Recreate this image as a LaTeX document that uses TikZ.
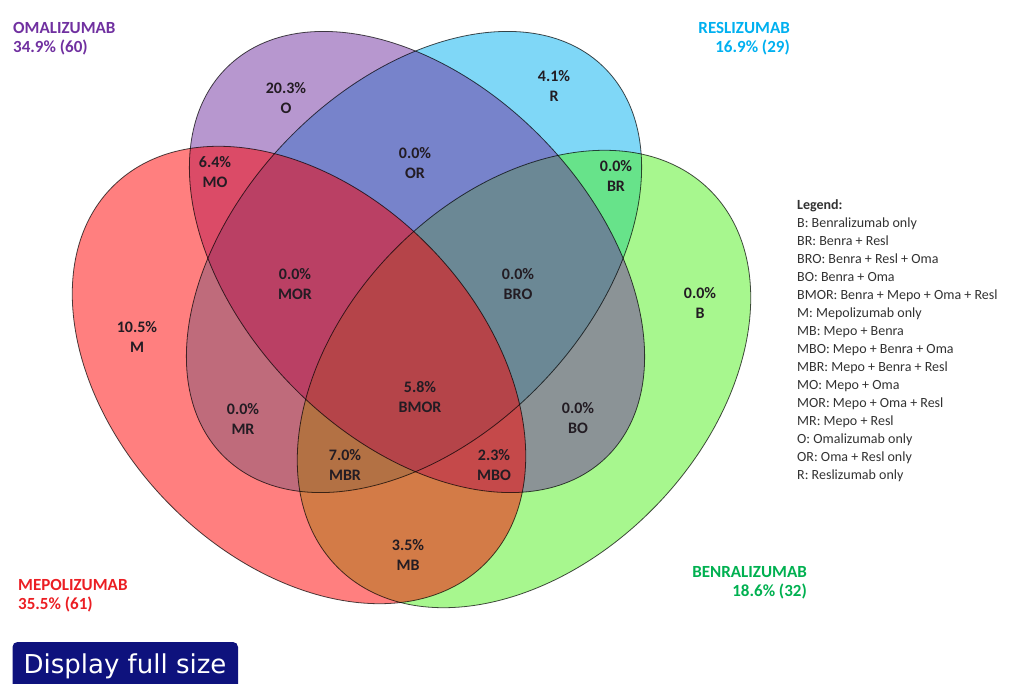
\documentclass[tikz,border=0pt]{standalone}
\usepackage{fontspec}
\setmainfont{Carlito}
\newfontfamily\btnfont{DejaVu Sans}
\definecolor{omacol}{RGB}{112,48,160}
\definecolor{rescol}{RGB}{0,176,240}
\definecolor{mepcol}{RGB}{235,30,35}
\definecolor{bencol}{RGB}{0,176,80}
\definecolor{omafill}{RGB}{112,48,160}
\definecolor{resfill}{RGB}{0,176,240}
\definecolor{mepfill}{RGB}{255,0,0}
\definecolor{benfill}{RGB}{80,240,30}
\definecolor{navybtn}{RGB}{14,18,125}
\definecolor{labcol}{RGB}{35,28,35}
\definecolor{legcol}{RGB}{50,50,50}
\tikzset{
  setfill/.style={fill=#1, fill opacity=0.5},
  setline/.style={draw=black, draw opacity=0.7, line width=0.8pt},
  reglab/.style={font=\fontsize{16}{20.5}\selectfont\bfseries, align=center, text=labcol, inner sep=0pt},
  ttl/.style={font=\fontsize{17}{19}\selectfont\bfseries, text=#1, inner sep=0pt},
  legtext/.style={font=\fontsize{14}{18}\selectfont, align=left, text=legcol, inner sep=0pt, anchor=north west},
  btntext/.style={font=\btnfont\fontsize{26}{28}\selectfont, text=white, inner sep=0pt, anchor=base}
}
\begin{document}
\begin{tikzpicture}[x=1pt,y=-1pt]
\useasboundingbox (0,0) rectangle (1012,684);
% fills in blending order
\fill[setfill=resfill, rotate around={45.9:(414,262)}] (414,262) ellipse (272 and 176);
\fill[setfill=benfill, rotate around={45.7:(524,379)}] (524,379) ellipse (265 and 183);
\fill[setfill=omafill, rotate around={-45.9:(417,262)}] (417,262) ellipse (272 and 176);
\fill[setfill=mepfill, rotate around={-45.7:(299,375)}] (299,375) ellipse (265 and 183);
% borders
\draw[setline, rotate around={45.9:(414,262)}] (414,262) ellipse (272 and 176);
\draw[setline, rotate around={45.7:(524,379)}] (524,379) ellipse (265 and 183);
\draw[setline, rotate around={-45.9:(417,262)}] (417,262) ellipse (272 and 176);
\draw[setline, rotate around={-45.7:(299,375)}] (299,375) ellipse (265 and 183);
% region labels
\node[reglab] (rO) at (286,98) {20.3\%\\O};
\node[reglab] (rR) at (554,86) {4.1\%\\R};
\node[reglab] (rMO) at (215,172) {6.4\%\\MO};
\node[reglab] (rOR) at (415,163) {0.0\%\\OR};
\node[reglab] (rBR) at (616,176) {0.0\%\\BR};
\node[reglab] (rMOR) at (295,284) {0.0\%\\MOR};
\node[reglab] (rBRO) at (518,284) {0.0\%\\BRO};
\node[reglab] (rB) at (700,303) {0.0\%\\B};
\node[reglab] (rM) at (137,337) {10.5\%\\M};
\node[reglab] (rBMOR) at (420,397) {5.8\%\\BMOR};
\node[reglab] (rMR) at (243,419) {0.0\%\\MR};
\node[reglab] (rBO) at (578,418) {0.0\%\\BO};
\node[reglab] (rMBR) at (345,465) {7.0\%\\MBR};
\node[reglab] (rMBO) at (494,465) {2.3\%\\MBO};
\node[reglab] (rMB) at (408,555) {3.5\%\\MB};
% titles
\node[ttl=omacol, anchor=base west] (omaT) at (13,34) {OMALIZUMAB};
\node[ttl=omacol, anchor=base west] (omaP) at (13,53) {34.9\% (60)};
\node[ttl=rescol, anchor=base east] (resT) at (790,34) {RESLIZUMAB};
\node[ttl=rescol, anchor=base east] (resP) at (790,53) {16.9\% (29)};
\node[ttl=mepcol, anchor=base west] (mepT) at (18,590) {MEPOLIZUMAB};
\node[ttl=mepcol, anchor=base west] (mepP) at (18,609) {35.5\% (61)};
\node[ttl=bencol, anchor=base east] (benT) at (807,577) {BENRALIZUMAB};
\node[ttl=bencol, anchor=base east] (benP) at (807,596) {18.6\% (32)};
% legend
\node[legtext] (legend) at (797,199) {\textbf{Legend:}\\
B: Benralizumab only\\
BR: Benra + Resl\\
BRO: Benra + Resl + Oma\\
BO: Benra + Oma\\
BMOR: Benra + Mepo + Oma + Resl\\
M: Mepolizumab only\\
MB: Mepo + Benra\\
MBO: Mepo + Benra + Oma\\
MBR: Mepo + Benra + Resl\\
MO: Mepo + Oma\\
MOR: Mepo + Oma + Resl\\
MR: Mepo + Resl\\
O: Omalizumab only\\
OR: Oma + Resl only\\
R: Reslizumab only};
% button
\fill[navybtn, rounded corners=5pt] (12.5,642) rectangle (238,700);
\node[btntext] (btn) at (125,673) {Display full size};
\end{tikzpicture}
\end{document}
